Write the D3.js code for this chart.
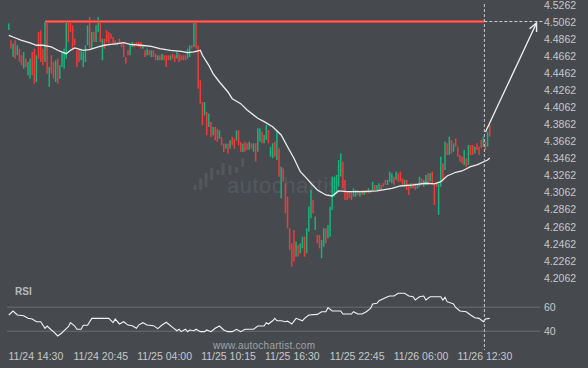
<!DOCTYPE html>
<html lang="en">
<head>
<meta charset="utf-8">
<script src="https://cdn.jsdelivr.net/npm/d3@7"></script>
<title>Price pattern</title>
<style>
  body { margin: 0; background: #464a4f; }
  svg { display: block; font-family: "Liberation Sans", Arial, sans-serif; }
</style>
</head>
<body>
<div id="chart"></div>
<script>

// candle opens / closes
const opens = [
  4.4963,4.4842,4.4646,4.4842,4.4666,4.4744,4.4666,4.4509,4.4627,4.4432,
  4.4392,4.4705,4.4744,4.4353,4.4940,4.4960,4.4744,4.4588,4.5057,4.4295,
  4.4666,4.4588,4.4353,4.4627,4.4392,4.4529,4.4509,4.4627,4.5057,4.5057,
  4.5018,4.4861,4.4725,4.4744,4.4608,4.4529,4.4588,4.4784,4.5116,4.4744,
  4.4940,4.4822,4.4940,4.5057,4.4608,4.4861,4.4960,4.4940,4.4920,4.4881,
  4.4842,4.4784,4.4861,4.4822,4.4803,4.4646,4.4725,4.4666,4.4764,4.4811,
  4.4822,4.4822,4.4822,4.4744,4.4725,4.4666,4.4725,4.4646,4.4725,4.4685,
  4.4608,4.4666,4.4608,4.4666,4.4666,4.4666,4.4608,4.4685,4.4666,4.4627,
  4.4685,4.4666,4.4666,4.4666,4.4627,4.4646,4.4784,4.4764,4.5057,4.4784,
  4.4373,4.4118,4.3962,4.4001,4.3825,4.3884,4.3728,4.3825,4.3805,4.3688,
  4.3708,4.3630,4.3571,4.3630,4.3571,4.3708,4.3688,4.3669,4.3786,4.3649,
  4.3532,4.3653,4.3634,4.3556,4.3634,4.3536,4.3634,4.3536,4.3653,4.3770,
  4.3634,4.3673,4.3790,4.3477,4.3458,4.3653,4.3438,4.3575,4.2989,4.3340,
  4.3165,4.3008,4.2637,4.2461,4.2617,4.2304,4.2441,4.2344,4.2402,4.2539,
  4.2344,4.2598,4.2754,4.2969,4.2617,4.2559,4.2559,4.2285,4.2422,4.2637,
  4.2520,4.2539,4.2852,4.3008,4.3047,4.3125,4.3242,4.3419,4.3204,4.3067,
  4.3067,4.3067,4.3008,4.3008,4.3086,4.3008,4.3086,4.3028,4.3086,4.3047,
  4.3086,4.3086,4.3145,4.3086,4.3086,4.3145,4.3165,4.3204,4.3145,4.3184,
  4.3165,4.3242,4.3204,4.3282,4.3301,4.3223,4.3125,4.3204,4.3145,4.3106,
  4.3165,4.3165,4.3106,4.3125,4.3223,4.3125,4.3145,4.3282,4.3184,4.3301,
  4.3145,4.3165,4.2793,4.3125,4.3399,4.3321,4.3634,4.3497,4.3673,4.3536,
  4.3692,4.3594,4.3497,4.3477,4.3380,4.3458,4.3380,4.3614,4.3614,4.3516,
  4.3634,4.3594,4.3673,4.3594,4.3653,4.3594,4.3849
];
const closes = [
  4.5040,4.4744,4.4803,4.4627,4.4784,4.4588,4.4549,4.4705,4.4529,4.4588,
  4.4627,4.4432,4.4333,4.4666,4.4627,4.4588,4.4549,4.5057,4.4451,4.4529,
  4.4451,4.4392,4.4608,4.4333,4.4549,4.4705,4.4744,4.5077,4.4822,4.4940,
  4.4725,4.4784,4.4529,4.4588,4.4725,4.4705,4.4784,4.5018,4.4744,4.4940,
  4.4822,4.5018,4.5116,4.4822,4.4861,4.4744,4.4822,4.4803,4.4861,4.4803,
  4.4784,4.4822,4.4803,4.4764,4.4646,4.4568,4.4666,4.4803,4.4822,4.4764,
  4.4784,4.4764,4.4744,4.4784,4.4646,4.4744,4.4666,4.4725,4.4646,4.4608,
  4.4666,4.4608,4.4685,4.4608,4.4529,4.4608,4.4666,4.4627,4.4588,4.4705,
  4.4588,4.4608,4.4608,4.4608,4.4744,4.4784,4.4744,4.5057,4.4744,4.4275,
  4.4099,4.3845,4.4118,4.3728,4.3982,4.3708,4.3825,4.3669,4.3649,4.3786,
  4.3610,4.3532,4.3630,4.3512,4.3669,4.3610,4.3571,4.3786,4.3610,4.3532,
  4.3630,4.3536,4.3556,4.3653,4.3575,4.3634,4.3419,4.3810,4.3810,4.3634,
  4.3731,4.3849,4.3634,4.3594,4.3634,4.3477,4.3790,4.3242,4.3360,4.3184,
  4.2813,4.2637,4.2383,4.2187,4.2245,4.2480,4.2304,4.2461,4.2539,4.2304,
  4.2637,4.2891,4.3086,4.2813,4.2774,4.2461,4.2402,4.2500,4.2637,4.2461,
  4.2676,4.2891,4.3242,4.3242,4.3262,4.3438,4.3516,4.3106,4.2969,4.2969,
  4.2989,4.2969,4.3106,4.3086,4.3028,4.3067,4.3028,4.3086,4.3047,4.3106,
  4.3047,4.3184,4.3086,4.3145,4.3165,4.3086,4.3125,4.3145,4.3204,4.3301,
  4.3282,4.3145,4.3301,4.3184,4.3184,4.3145,4.3204,4.3086,4.3028,4.3165,
  4.3106,4.3086,4.3145,4.3242,4.3145,4.3204,4.3262,4.3145,4.3282,4.3165,
  4.2910,4.3125,4.3165,4.3477,4.3184,4.3653,4.3497,4.3712,4.3516,4.3634,
  4.3594,4.3477,4.3419,4.3399,4.3556,4.3360,4.3614,4.3497,4.3497,4.3594,
  4.3556,4.3497,4.3575,4.3712,4.3556,4.3770,4.3712
];

// moving average (white line), sampled at candle indexes
const maIdx = [
  0,2,6,10,13,16,20,23,27,29,31,35,38,42,45,48,51,54,57,62,
  67,71,76,81,84,87,90,91,94,96,99,103,105,109,112,117,120,124,128,131,
  134,137,140,142,145,149,152,155,159,163,167,173,180,184,190,196,200,203,206,210,
  213,217,220,225,226
];
const maVals = [
  4.4901,4.4881,4.4842,4.4811,4.4784,4.4784,4.4764,4.4725,4.4685,4.4725,
  4.4752,4.4725,4.4732,4.4764,4.4784,4.4795,4.4803,4.4814,4.4795,4.4784,
  4.4772,4.4744,4.4725,4.4713,4.4697,4.4705,4.4725,4.4666,4.4549,4.4451,
  4.4353,4.4236,4.4157,4.4099,4.4025,4.3927,4.3888,4.3829,4.3731,4.3594,
  4.3458,4.3301,4.3223,4.3165,4.3086,4.3028,4.3016,4.3075,4.3067,4.3067,
  4.3067,4.3075,4.3106,4.3133,4.3145,4.3165,4.3157,4.3184,4.3251,4.3294,
  4.3309,4.3360,4.3380,4.3438,4.3462
];

// RSI panel
const rsiIdx = [
  0,2,4,7,9,11,13,15,17,18,
  20,21,23,25,26,28,29,31,32,34,
  35,37,39,42,45,47,49,50,52,54,
  56,58,60,61,63,65,68,70,72,74,
  75,77,79,80,81,83,84,85,87,88,
  90,92,93,95,97,99,101,103,105,107,
  109,111,115,117,120,121,122,124,125,126,
  128,130,131,133,135,138,139,141,145,147,
  149,150,152,156,157,161,162,164,166,168,
  170,171,173,174,178,179,181,183,186,188,
  190,191,193,195,196,198,203,204,205,206,
  209,210,212,215,217,219,221,223,224,226
];
const rsiVals = [
  53.1,56.4,53.1,52.5,50.3,49.7,47.5,47.5,42,43.9,
  40.6,39.2,35.6,38.3,40,43.3,46.7,43.9,41.2,41.2,
  44.5,44.5,50.3,50.3,50.3,50.3,46.7,49.7,45.6,47.5,
  44.7,44.2,42,44.7,46.7,44.7,44.2,41.7,44.7,47,
  45.6,42.8,40,41.2,39.2,41.2,39.2,40.6,40,41.2,
  39.2,39.2,40.6,39.2,42,43.9,40.6,39.2,39.2,41.2,
  39.2,41.2,41.2,43.9,43.9,46.7,45.6,48.3,50.3,48.3,
  48.3,47.5,48,45.6,50.3,48.3,50.3,53.1,53.6,55.8,
  55.8,59.2,56.4,56.4,53.9,53.9,55.8,53.9,53.9,55.8,
  58.6,62.2,62.8,65,68.3,68.9,68.9,71.2,71.2,68.9,
  68.3,65.6,68.3,68.9,65.6,68.3,68.3,65.6,67.8,64.2,
  62.2,59.4,56.4,55.8,53.1,50.8,50.3,47.5,49.7,50.3
];

const priceTicks = [4.5262,4.5062,4.4862,4.4662,4.4462,4.4262,4.4062,4.3862,
                    4.3662,4.3462,4.3262,4.3062,4.2862,4.2662,4.2462,4.2262,4.2062];
const rsiTicks = [40, 60];
const timeTickIdx = [12.5, 43, 73, 103, 133, 163.5, 193.5, 223.5];
const timeTickLabels = ["11/24 14:30","11/24 20:45","11/25 04:00","11/25 10:15",
                        "11/25 16:30","11/25 22:45","11/26 06:00","11/26 12:30"];

// resistance level and the forecast arrow
const resistance = 4.5062;
const resistStartIdx = 17;
const nowIdx = 223.5;
const arrowFrom = [224, 4.3767];
const arrowTo = [248, 4.5062];


const W = 588, H = 368;

const svg = d3.select("#chart")
  .append("svg")
    .attr("width", W)
    .attr("height", H);

svg.append("rect")
  .attr("width", W).attr("height", H)
  .attr("fill", "#464a4f");

const x = d3.scaleLinear().domain([0, 226]).range([8.8, 489.7]);
const y = d3.scaleLinear().domain([4.2062, 4.5262]).range([277.3, 4.5]);
const yr = d3.scaleLinear().domain([40, 60]).range([330.7, 306.7]);

// faint watermark logo
const logo = svg.append("g").attr("fill", "#54585d");
[[195,185,190],[200.7,178,190],[206,173,187],[211.7,168,180],[218,170,175],
 [223,163,175],[230,165,175],[236.7,167,173],[242.7,158,167]].forEach(function(b) {
  logo.append("rect")
    .attr("x", b[0] - 1.5).attr("y", b[1])
    .attr("width", 3).attr("height", b[2] - b[1])
    .attr("rx", 1);
});
logo.append("text")
  .attr("x", 227).attr("y", 193)
  .style("font-size", "22px")
  .style("letter-spacing", "0.5px")
  .text("autochartist");

// price axis
const yAxis = svg.append("g")
  .attr("transform", "translate(540,0.5)")
  .call(d3.axisRight(y).tickValues(priceTicks).tickFormat(d3.format(".4f")).tickSize(0).tickPadding(4));
yAxis.select(".domain").remove();
yAxis.selectAll("text").attr("fill", "#c6c8ca").style("font-size", "10.5px");

// rsi axis + grid
svg.append("g")
  .selectAll("line")
  .data(rsiTicks)
  .join("line")
    .attr("x1", 7).attr("x2", 540)
    .attr("y1", d => yr(d) + 0.5).attr("y2", d => yr(d) + 0.5)
    .attr("stroke", "#6a6e72")
    .attr("stroke-width", 1);

const rAxis = svg.append("g")
  .attr("transform", "translate(540,0)")
  .call(d3.axisRight(yr).tickValues(rsiTicks).tickSize(0).tickPadding(4));
rAxis.select(".domain").remove();
rAxis.selectAll("text").attr("fill", "#c6c8ca").style("font-size", "10.5px");

// time axis
const xAxis = svg.append("g")
  .attr("transform", "translate(0,352)")
  .call(d3.axisBottom(x).tickValues(timeTickIdx)
    .tickFormat((d, i) => timeTickLabels[i]).tickSize(0).tickPadding(1));
xAxis.select(".domain").remove();
xAxis.selectAll("text").attr("fill", "#c6c8ca").style("font-size", "10.5px");

svg.append("text")
  .attr("x", 15).attr("y", 294.8)
  .attr("fill", "#b6babe")
  .style("font-size", "10px")
  .style("font-weight", "bold")
  .text("RSI");

svg.append("text")
  .attr("x", 213).attr("y", 348.5)
  .attr("fill", "#9ea2a6")
  .style("font-size", "10px")
  .style("letter-spacing", "0.25px")
  .text("www.autochartist.com");

// candles
const candles = opens.map((o, i) => ({ i: i, o: o, c: closes[i] }));
svg.append("g")
  .selectAll("rect")
  .data(candles)
  .join("rect")
    .attr("x", d => x(d.i) - 0.75)
    .attr("width", 1.5)
    .attr("y", d => y(Math.max(d.o, d.c)))
    .attr("height", d => Math.max(1, y(Math.min(d.o, d.c)) - y(Math.max(d.o, d.c))))
    .attr("fill", d => d.c >= d.o ? "#16b37c" : "#f03a3a");

// moving average
svg.append("path")
  .datum(maIdx.map((d, i) => [d, maVals[i]]))
  .attr("fill", "none")
  .attr("stroke", "#ececec")
  .attr("stroke-width", 1.3)
  .attr("d", d3.line().x(d => x(d[0])).y(d => y(d[1])));

// rsi line
svg.append("path")
  .datum(rsiIdx.map((d, i) => [d, rsiVals[i]]))
  .attr("fill", "none")
  .attr("stroke", "#f2f2f2")
  .attr("stroke-width", 1.1)
  .attr("d", d3.line().x(d => x(d[0])).y(d => yr(d[1])));

// resistance line
svg.append("line")
  .attr("x1", x(resistStartIdx)).attr("x2", x(nowIdx))
  .attr("y1", y(resistance)).attr("y2", y(resistance))
  .attr("stroke", "#d93c3c").attr("stroke-width", 3);
svg.append("line")
  .attr("x1", x(resistStartIdx)).attr("x2", x(nowIdx))
  .attr("y1", y(resistance)).attr("y2", y(resistance))
  .attr("stroke", "#f26a6a").attr("stroke-width", 1);

// "now" marker and projection
svg.append("line")
  .attr("x1", x(nowIdx)).attr("x2", x(nowIdx))
  .attr("y1", 4).attr("y2", 350)
  .attr("stroke", "#c8c8c8").attr("stroke-width", 1)
  .attr("stroke-dasharray", "3,2");

svg.append("line")
  .attr("x1", x(nowIdx)).attr("x2", 543)
  .attr("y1", y(resistance)).attr("y2", y(resistance))
  .attr("stroke", "#d0d0d0").attr("stroke-width", 1)
  .attr("stroke-dasharray", "3,2");

const ax0 = x(arrowFrom[0]), ay0 = y(arrowFrom[1]);
const ax1 = x(arrowTo[0]), ay1 = y(arrowTo[1]) + 1.5;
svg.append("line")
  .attr("x1", ax0).attr("y1", ay0).attr("x2", ax1).attr("y2", ay1)
  .attr("stroke", "#f0f0f0").attr("stroke-width", 1.3);

const ang = Math.atan2(ay1 - ay0, ax1 - ax0);
const head = 9, spread = 0.45;
svg.append("path")
  .attr("d", "M" + (ax1 - head * Math.cos(ang - spread)) + "," + (ay1 - head * Math.sin(ang - spread)) +
             "L" + ax1 + "," + ay1 +
             "L" + (ax1 - head * Math.cos(ang + spread)) + "," + (ay1 - head * Math.sin(ang + spread)))
  .attr("fill", "none")
  .attr("stroke", "#f0f0f0")
  .attr("stroke-width", 1.4);

</script>
</body>
</html>
